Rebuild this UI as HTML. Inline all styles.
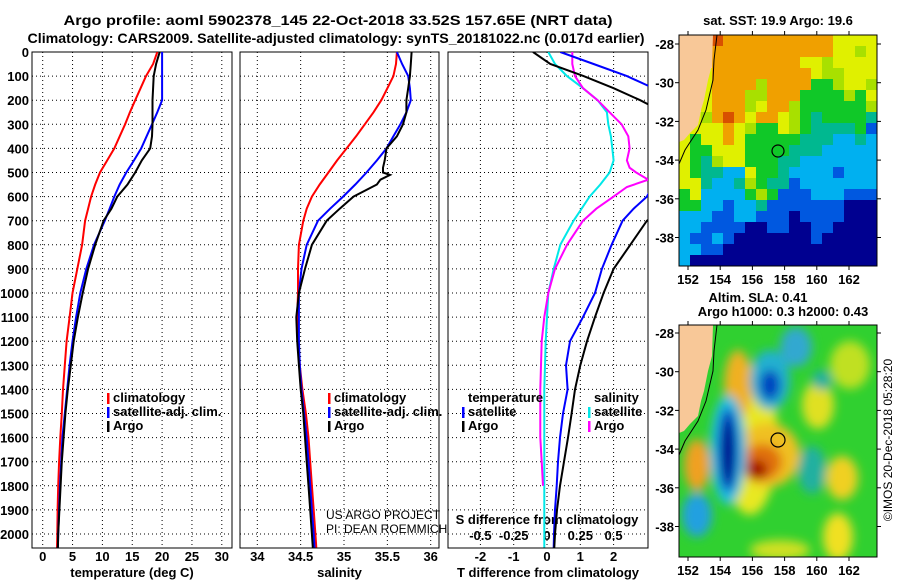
<!DOCTYPE html>
<html><head><meta charset="utf-8"><style>
body{margin:0;background:#fff;}
svg{display:block;font-family:"Liberation Sans",Arial,sans-serif;font-weight:bold;}
</style></head><body>
<svg id="c" width="900" height="580" viewBox="0 0 900 580" xmlns="http://www.w3.org/2000/svg">
<defs>
<filter id="bl" x="-20%" y="-20%" width="140%" height="140%"><feGaussianBlur stdDeviation="5"/></filter>
<clipPath id="m1"><rect x="679" y="35" width="198" height="231"/></clipPath>
<clipPath id="m2"><rect x="679" y="325" width="198" height="232"/></clipPath>
<clipPath id="p1"><rect x="32" y="52" width="200" height="496"/></clipPath>
<clipPath id="p2"><rect x="240" y="52" width="199" height="496"/></clipPath>
<clipPath id="p3"><rect x="448" y="52" width="200" height="496"/></clipPath>
</defs>
<text x="338" y="25" text-anchor="middle" font-size="14" textLength="549" lengthAdjust="spacingAndGlyphs">Argo profile: aoml 5902378_145 22-Oct-2018 33.52S 157.65E (NRT data)</text>
<text x="336" y="43" text-anchor="middle" font-size="14" textLength="617" lengthAdjust="spacingAndGlyphs">Climatology: CARS2009. Satellite-adjusted climatology: synTS_20181022.nc (0.017d earlier)</text>
<g id="plots"></g>

<!-- top map -->
<g>
<text x="778" y="25" text-anchor="middle" font-size="13">sat. SST: 19.9 Argo: 19.6</text>
<g id="sstgrid" clip-path="url(#m1)"></g>
<polygon points="679,35 713,35 712,65 708,80 704,100 701,110 698,125 690,133 684,140 679,142" fill="#f8c898"/>
<polyline points="717,35 714,60 713,80 706,110 698,130 685,150 679,164" fill="none" stroke="#000" stroke-width="1"/>
<circle cx="778" cy="151" r="6" fill="none" stroke="#000" stroke-width="1.2"/>
<rect x="679" y="35" width="198" height="231" fill="none" stroke="#000" stroke-width="1"/>
</g>

<!-- bottom map -->
<g>
<text x="758" y="302" text-anchor="middle" font-size="13">Altim. SLA: 0.41</text>
<text x="783" y="316" text-anchor="middle" font-size="13">Argo h1000: 0.3 h2000: 0.43</text>
<g clip-path="url(#m2)">
<rect x="679" y="325" width="198" height="232" fill="#30d030"/>
<g filter="url(#bl)">
<ellipse cx="750" cy="440" rx="28" ry="75" fill="#e8e820"/>
<ellipse cx="738" cy="385" rx="14" ry="35" fill="#f0b020"/>
<ellipse cx="768" cy="455" rx="32" ry="32" fill="#f0c020"/>
<ellipse cx="762" cy="462" rx="20" ry="18" fill="#e07010"/>
<ellipse cx="757" cy="470" rx="10" ry="10" fill="#a00000"/>
<ellipse cx="728" cy="450" rx="18" ry="55" fill="#20c0e0"/>
<ellipse cx="728" cy="450" rx="10" ry="42" fill="#0030c0"/>
<ellipse cx="728" cy="452" rx="5" ry="32" fill="#000080"/>
<ellipse cx="770" cy="380" rx="20" ry="30" fill="#20b0d0"/>
<ellipse cx="770" cy="385" rx="10" ry="15" fill="#0040c0"/>
<ellipse cx="796" cy="347" rx="16" ry="20" fill="#30a8d0"/>
<ellipse cx="697" cy="465" rx="13" ry="26" fill="#f0a020"/>
<ellipse cx="697" cy="515" rx="15" ry="22" fill="#20a0e0"/>
<ellipse cx="812" cy="470" rx="14" ry="24" fill="#20b0a0"/>
<ellipse cx="842" cy="478" rx="16" ry="22" fill="#f0d020"/>
<ellipse cx="838" cy="537" rx="15" ry="24" fill="#f0e020"/>
<ellipse cx="850" cy="365" rx="20" ry="24" fill="#c0e020"/>
<ellipse cx="818" cy="405" rx="16" ry="24" fill="#e0e020"/>
<ellipse cx="822" cy="380" rx="10" ry="10" fill="#20b0a0"/>
<ellipse cx="780" cy="550" rx="30" ry="10" fill="#d0e020"/>
</g>
</g>
<polygon points="679,325 713,325 712,356 708,371 704,391 701,401 698,416 690,424 684,431 679,433" fill="#f8c898"/>
<polyline points="717,325 714,351 713,371 706,401 698,421 685,441 679,455" fill="none" stroke="#000" stroke-width="1"/>
<circle cx="778" cy="440" r="7" fill="none" stroke="#000" stroke-width="1.2"/>
<rect x="679" y="325" width="198" height="232" fill="none" stroke="#000" stroke-width="1"/>
</g>
<text transform="translate(892,440) rotate(-90)" text-anchor="middle" font-size="12" font-weight="normal">©IMOS 20-Dec-2018 05:28:20</text>
<text x="326" y="519" font-size="12" font-weight="normal">US ARGO PROJECT</text>
<text x="326" y="533" font-size="12" font-weight="normal">PI: DEAN ROEMMICH</text>
</svg>
<script>
const depth=[0,50,100,150,200,250,300,350,400,450,500,550,600,650,700,800,900,1000,1100,1200,1300,1400,1500,1600,1700,1800,1900,2000,2056];
const tempClim=[19.2,18.5,17.3,16.4,15.5,14.6,13.8,12.9,12,10.8,9.6,8.8,8.1,7.6,7.1,6.6,5.8,5.0,4.5,4.0,3.7,3.4,3.2,2.95,2.75,2.6,2.5,2.45,2.4];
const tempSat=[20,20,20,20,20,19.2,18.3,17.4,16.5,15.3,14,12.9,12,11.2,10.4,8.6,7.3,6.3,5.6,5.0,4.5,4.1,3.7,3.3,3.1,2.9,2.75,2.6,2.55];
const tempArgo=[19.6,19.0,18.6,18.5,18.4,18.4,18.4,18.3,18.0,16.6,15.5,14.2,12.5,11.5,10.2,8.8,7.6,6.7,5.9,5.2,4.7,4.2,3.8,3.5,3.2,3.0,2.8,2.6,2.55];
const salClim=[35.61,35.6,35.57,35.5,35.43,35.34,35.24,35.14,35.03,34.92,34.82,34.72,34.63,34.57,34.53,34.48,34.47,34.47,34.46,34.47,34.49,34.52,34.56,34.59,34.61,34.63,34.65,34.67,34.68];
const salSat=[35.61,35.67,35.74,35.76,35.77,35.72,35.65,35.57,35.49,35.38,35.26,35.13,34.99,34.84,34.70,34.57,34.51,34.48,34.48,34.48,34.49,34.51,34.54,34.57,34.59,34.61,34.63,34.65,34.66];
const salArgo=[35.78,35.77,35.76,35.74,35.72,35.72,35.68,35.61,35.49,35.47,35.45,35.38,35.11,34.95,34.80,34.63,34.55,34.48,34.45,34.46,34.48,34.50,34.53,34.55,34.57,34.59,34.61,34.63,34.64];
const salArgoKinkDepth=[480,510,530];
const salArgoKink=[35.45,35.53,35.42];
const dTsat=[0.4,1.4,2.4,3.2,3.8,4.0,4.0,3.9,3.8,3.6,3.4,3.2,3.0,2.6,2.27,1.94,1.65,1.44,1.08,0.69,0.57,0.62,0.48,0.39,0.33,0.29,0.24,0.21,0.2];
const dTargo=[-0.42,0.1,1.1,2.0,2.8,3.5,4.2,4.6,5.0,5.2,5.3,5.0,4.5,3.6,3.0,2.5,2.0,1.7,1.44,1.2,1.0,0.84,0.74,0.63,0.51,0.39,0.3,0.24,0.22];
const dSsat=[0.01,0.06,0.15,0.27,0.38,0.45,0.46,0.48,0.49,0.5,0.47,0.4,0.32,0.26,0.2,0.1,0.05,0.01,0,-0.01,-0.015,-0.02,-0.02,-0.02,-0.02,-0.02,-0.02,-0.02,-0.02];
const dSargoDepth=[0,50,100,150,200,250,300,350,400,450,480,500,530,560,600,650,700,800,900,1000,1100,1200,1300,1400,1500,1600,1700,1800];
const dSargo=[0.19,0.19,0.21,0.27,0.38,0.47,0.56,0.61,0.62,0.6,0.62,0.67,0.76,0.6,0.5,0.37,0.27,0.15,0.06,0.01,-0.02,-0.04,-0.045,-0.05,-0.05,-0.05,-0.04,-0.03];
const depthTicks=[0,100,200,300,400,500,600,700,800,900,1000,1100,1200,1300,1400,1500,1600,1700,1800,1900,2000];
const tempTicks=[0,5,10,15,20,25,30];
const salTicks=[34,34.5,35,35.5,36];
const dTTicks=[-2,-1,0,1,2];
const dSTicks=[-0.5,-0.25,0,0.25,0.5];
const dSTickLabels=["-0.5","-0.25","0","0.25","0.5"];
const sstRows=[
"PPPROOOOOOOOOOYYYY",
"PPPOOOOOOOOOOOYYLY",
"PPPOOOOOOOOYYLYYYY",
"PPYOOOOOOOOOYLLYYY",
"PPYOOOOLOOOOGGLYYL",
"PPYOOOLLOOOGGGGLGY",
"PPYOOOLYOOLGGGGGGL",
"PYLOROYOOYLGTGGGGT",
"YYYYOYLGGYLGTTTTGB",
"YGYYOYGGGGGTTTCCTC",
"YGGYYYGGGGTTTCCCCC",
"YGTLYYGGGTTCCCCCCC",
"YGTTCCYGGTCCCCBCCC",
"YYTCCTLGTTBCCCCCCC",
"GYCCCCGLGBBBCCCBBB",
"GGCCBCCTBBBBBBBNNN",
"CCCBBCCBBBNBBBBNNN",
"CCBBBBNNBBNNBBNNNN",
"CBBCBNNNNNNNBNNNNN",
"CCBBNNNNNNNNNNNNNN",
"CNNNNNNNNNNNNNNNNN"];
const sstColors={P:'#f8c898',R:'#d85000',O:'#f0a000',Y:'#e0f000',L:'#a8e000',G:'#10c828',T:'#00b890',C:'#00b0f0',B:'#0058e0',N:'#000090'};

const NS='http://www.w3.org/2000/svg';
const G=document.getElementById('plots');
function y(d){return 52+d*0.241;}
function xT(v){return 42.7+v*5.97;}
function xS(v){return 257.3+(v-34)*86.7;}
function xD(v){return 547+v*33.3;}
function xDS(v){return 547+v*133.2;}
function mk(tag,at,parent){const e=document.createElementNS(NS,tag);for(const k in at)e.setAttribute(k,at[k]);(parent||G).appendChild(e);return e;}
function txt(s,x,yy,anchor,size,parent){const t=mk('text',{x:x,y:yy,'text-anchor':anchor||'middle','font-size':size||13},parent);t.textContent=s;return t;}

const SG=document.getElementById('sstgrid');
sstRows.forEach((row,j)=>{for(let i=0;i<row.length;i++){
  const r=mk('rect',{x:679+i*11,y:35+j*11,width:11.5,height:11.5,fill:sstColors[row[i]]},SG);
  
  
}});

function panel(x0,x1,xs,ticks,fmt,name,title){
  const g=mk('g',{});
  
  
  for(const d of depthTicks){const l=mk('line',{x1:x0,x2:x1,y1:y(d),y2:y(d),stroke:'#000','stroke-width':1,'stroke-dasharray':'1,3'},g);}
  ticks.forEach((t,i)=>{const l=mk('line',{x1:xs(t),x2:xs(t),y1:52,y2:548,stroke:'#000','stroke-width':1,'stroke-dasharray':'1,3'},g);
    if(fmt){const tl=txt(fmt[i],xs(t),561,'middle',13,g);}});
  const r=mk('rect',{x:x0,y:52,width:x1-x0,height:496,fill:'none',stroke:'#000','stroke-width':1},g);
  
  const tt=txt(title,(x0+x1)/2,577,'middle',13,g);
  
  return g;
}
function line(xs,vals,ds,color,clip,name){
  const p=mk('polyline',{points:vals.map((v,i)=>xs(v).toFixed(1)+','+y(ds[i]).toFixed(1)).join(' '),fill:'none',stroke:color,'stroke-width':2,'clip-path':'url(#'+clip+')'});
  
  
}
panel(32,232,xT,tempTicks,tempTicks.map(String),'temperature-panel','temperature (deg C)');
panel(240,439,xS,salTicks,salTicks.map(String),'salinity-panel','salinity');
panel(448,648,xD,dTTicks,dTTicks.map(String),'difference-panel','T difference from climatology');
depthTicks.forEach(d=>{const t=txt(String(d),29,y(d)+5,'end',13);});
dSTicks.forEach((s,i)=>{const t=txt(dSTickLabels[i],xDS(s),540,'middle',13);});
const st=txt('S difference from climatology',547,524,'middle',13);


line(xT,tempClim,depth,'#ff0000','p1','temp-climatology-line');
line(xT,tempSat,depth,'#0000ff','p1','temp-satellite-line');
line(xT,tempArgo,depth,'#000000','p1','temp-argo-line');
line(xS,salClim,depth,'#ff0000','p2','sal-climatology-line');
line(xS,salSat,depth,'#0000ff','p2','sal-satellite-line');
const sa=depth.map((d,i)=>[d,salArgo[i]]).concat(salArgoKinkDepth.map((d,i)=>[d,salArgoKink[i]])).sort((a,b)=>a[0]-b[0]);
line(xS,sa.map(p=>p[1]),sa.map(p=>p[0]),'#000000','p2','sal-argo-line');
line(xDS,dSsat,depth,'#00e8e8','p3','s-diff-satellite-line');
line(xDS,dSargo,dSargoDepth,'#ff00ff','p3','s-diff-argo-line');
line(xD,dTsat,depth,'#0000ff','p3','t-diff-satellite-line');
line(xD,dTargo,depth,'#000000','p3','t-diff-argo-line');

function legend(items,x,y0,name){
  const g=mk('g',{});
  
  
  items.forEach((it,i)=>{
    if(it[1]){const b=mk('rect',{x:x,y:y0+i*14-9,width:2.5,height:11,fill:it[1]},g);}
    const t=txt(it[0],x+6,y0+i*14,'start',13,g);
  });
}
legend([['climatology','#ff0000'],['satellite-adj. clim.','#0000ff'],['Argo','#000000']],107,402,'temperature-legend');
legend([['climatology','#ff0000'],['satellite-adj. clim.','#0000ff'],['Argo','#000000']],328,402,'salinity-legend');
legend([['temperature',null],['satellite','#0000ff'],['Argo','#000000']],462,402,'t-diff-legend');
legend([['salinity',null],['satellite','#00e8e8'],['Argo','#ff00ff']],588,402,'s-diff-legend');

const lonTicks=[152,154,156,158,160,162];
const latTicks=[-28,-30,-32,-34,-36,-38];
function mapAxes(top,bottom,lat0y,name){
  lonTicks.forEach(l=>{const x=688+(l-152)*16.1;
    mk('line',{x1:x,x2:x,y1:top,y2:top-4,stroke:'#000'});mk('line',{x1:x,x2:x,y1:bottom,y2:bottom+4,stroke:'#000'});
    const t=txt(String(l),x,bottom+18,'middle',13);});
  latTicks.forEach(l=>{const yy=lat0y+(-28-l)*19.35;
    mk('line',{x1:679,x2:675,y1:yy,y2:yy,stroke:'#000'});mk('line',{x1:877,x2:881,y1:yy,y2:yy,stroke:'#000'});
    const t=txt(String(l),674,yy+5,'end',13);});
}
mapAxes(35,266,44,'sst-map');
mapAxes(325,557,333,'sla-map');
</script>
</body></html>
